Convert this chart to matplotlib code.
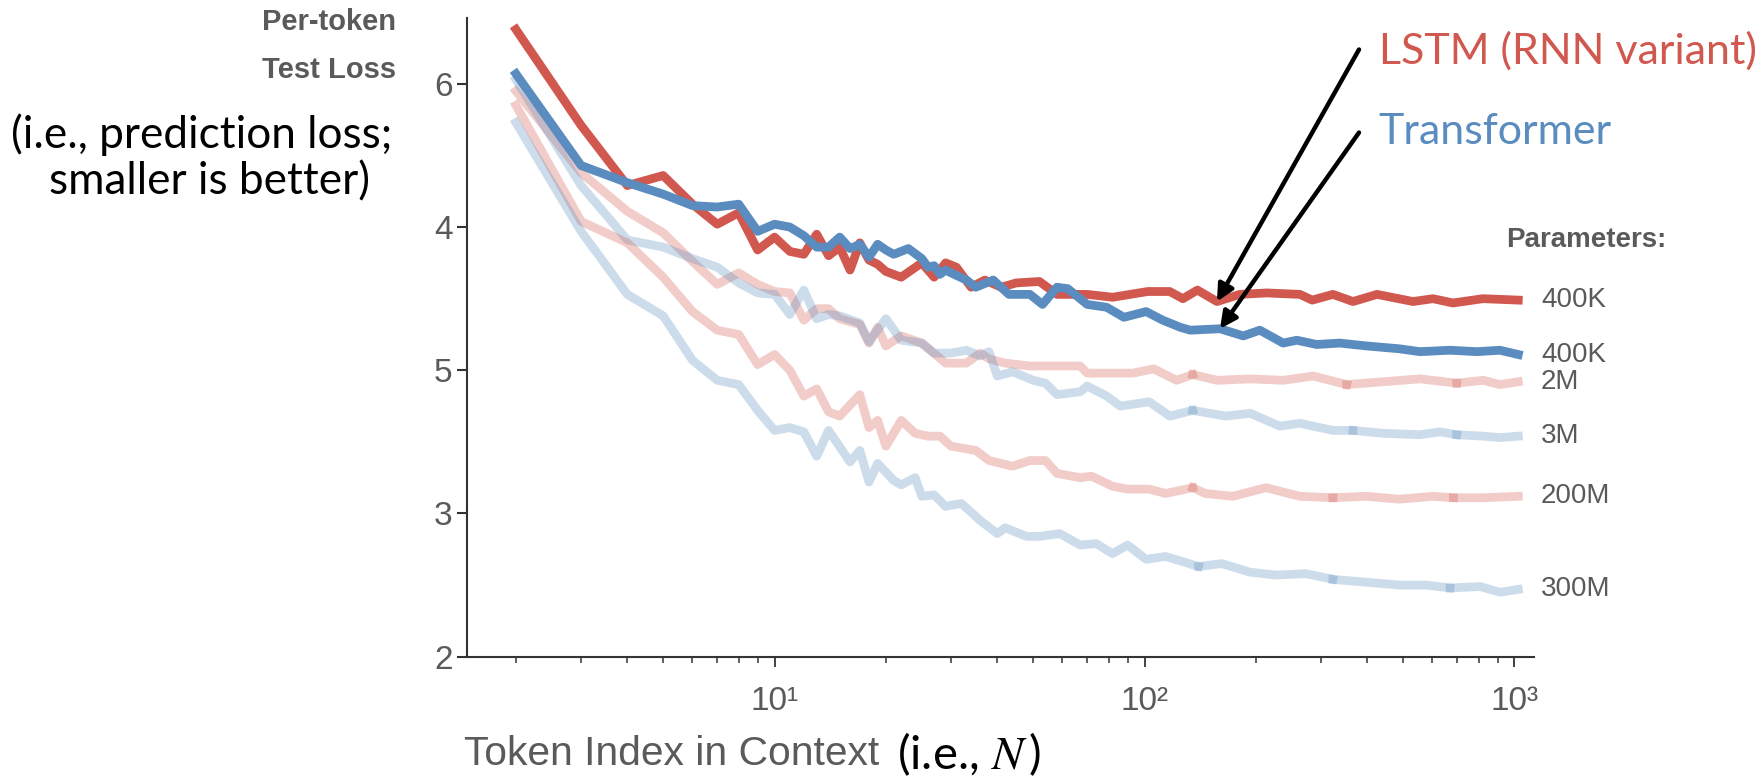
import numpy as np
import matplotlib
matplotlib.use("Agg")
import matplotlib.pyplot as plt
from matplotlib.transforms import blended_transform_factory

# Values. Y is in axis units (tick slots 2..6),
# the tick labels are printed in the order the source figure shows them.
n_lstm = [2, 3, 4, 5, 6, 7, 8, 9, 10, 11, 12, 13, 14, 15, 16, 17, 18, 19, 20,
          22, 25, 27, 29, 31, 34, 37, 41, 45, 52, 58, 70, 82, 102, 117, 127,
          139, 157, 181, 214, 263, 284, 323, 366, 425, 532, 602, 682, 822, 1024]
loss_lstm = [6.38, 5.71, 5.29, 5.36, 5.16, 5.02, 5.10, 4.84, 4.93, 4.83, 4.81,
             4.95, 4.80, 4.86, 4.70, 4.89, 4.77, 4.74, 4.69,
             4.65, 4.75, 4.65, 4.75, 4.72, 4.58, 4.63, 4.58, 4.61, 4.62, 4.53,
             4.53, 4.51, 4.55, 4.55, 4.50, 4.56, 4.48, 4.53, 4.54, 4.53, 4.49,
             4.53, 4.48, 4.53, 4.48, 4.50, 4.47, 4.50, 4.49]

n_tf = [2, 3, 4, 5, 6, 7, 8, 9, 10, 11, 12, 13, 14, 15, 16, 17, 18, 19, 20, 21,
        23, 25, 26, 27, 28, 29, 30, 33, 35, 39, 43, 49, 53, 58, 62, 70, 79, 88,
        101, 112, 125, 133, 160, 185, 205, 237, 258, 292, 337, 398, 489, 555,
        670, 792, 913, 1024]
loss_tf = [6.07, 5.43, 5.31, 5.23, 5.15, 5.14, 5.16, 4.97, 5.02, 5.00, 4.94,
           4.86, 4.86, 4.93, 4.85, 4.88, 4.79, 4.88, 4.84, 4.81,
           4.85, 4.78, 4.72, 4.73, 4.67, 4.70, 4.68, 4.63, 4.58, 4.63, 4.53,
           4.53, 4.46, 4.58, 4.57, 4.46, 4.44, 4.37, 4.41, 4.35, 4.30, 4.28,
           4.29, 4.24, 4.28, 4.19, 4.21, 4.18, 4.19, 4.17, 4.15, 4.13, 4.14,
           4.13, 4.14, 4.11]

n_lstm_2m = [2, 3, 4, 5, 6, 7, 8, 9, 10, 11, 12, 13, 14, 15, 17, 18, 19, 20, 22,
             25, 29, 33, 36, 38, 42, 49, 54, 67, 70, 82, 93, 106, 122, 135, 157,
             193, 237, 286, 352, 442, 555, 698, 824, 914, 1024]
loss_lstm_2m = [5.95, 5.38, 5.11, 4.96, 4.76, 4.60, 4.68, 4.60, 4.55, 4.54,
                4.35, 4.43, 4.43, 4.36, 4.32, 4.19, 4.30, 4.17, 4.24, 4.19,
                4.05, 4.05, 4.12, 4.08, 4.05, 4.03, 4.03, 4.03, 3.98, 3.98,
                3.98, 4.01, 3.93, 3.97, 3.93, 3.94, 3.93, 3.96, 3.90, 3.92,
                3.94, 3.91, 3.93, 3.90, 3.92]

n_tf_3m = [2, 3, 4, 5, 6, 7, 8, 9, 10, 11, 12, 13, 14, 15, 17, 18, 20, 22, 25,
           27, 30, 33, 36, 38, 40, 44, 50, 54, 58, 67, 70, 79, 86, 103, 117,
           135, 166, 193, 232, 263, 323, 366, 442, 555, 629, 698, 824, 914, 1024]
loss_tf_3m = [6.03, 5.29, 4.91, 4.86, 4.78, 4.72, 4.61, 4.54, 4.53, 4.39, 4.56,
              4.36, 4.39, 4.38, 4.33, 4.20, 4.36, 4.21, 4.19, 4.12, 4.12, 4.14,
              4.10, 4.13, 3.96, 3.99, 3.93, 3.91, 3.83, 3.85, 3.89, 3.82, 3.75,
              3.78, 3.68, 3.72, 3.68, 3.70, 3.61, 3.63, 3.58, 3.58, 3.56, 3.55,
              3.57, 3.55, 3.54, 3.53, 3.54]

n_lstm_200m = [2, 3, 4, 5, 6, 7, 8, 9, 10, 11, 12, 13, 14, 15, 17, 18, 19, 20,
               22, 24, 26, 28, 30, 35, 38, 44, 49, 54, 58, 67, 72, 82, 90, 103,
               114, 135, 146, 173, 213, 263, 323, 397, 489, 602, 684, 824, 1024]
loss_lstm_200m = [5.85, 5.04, 4.89, 4.65, 4.41, 4.28, 4.25, 4.04, 4.11, 4.00,
                  3.82, 3.87, 3.71, 3.68, 3.83, 3.60, 3.65, 3.47, 3.65, 3.56,
                  3.54, 3.54, 3.47, 3.44, 3.37, 3.33, 3.37, 3.37, 3.28, 3.25,
                  3.26, 3.19, 3.17, 3.17, 3.14, 3.18, 3.14, 3.12, 3.18, 3.12,
                  3.11, 3.12, 3.10, 3.12, 3.11, 3.11, 3.12]

n_tf_300m = [2, 3, 4, 5, 6, 7, 8, 9, 10, 11, 12, 13, 14, 16, 17, 18, 19, 21, 22,
             24, 25, 27, 29, 32, 36, 40, 42, 48, 52, 59, 67, 74, 82, 90, 101,
             114, 140, 162, 193, 227, 273, 323, 398, 489, 577, 670, 807, 914, 1024]
loss_tf_300m = [5.73, 4.97, 4.53, 4.38, 4.07, 3.93, 3.90, 3.72, 3.58, 3.60,
                3.57, 3.40, 3.58, 3.36, 3.44, 3.22, 3.35, 3.23, 3.20, 3.25,
                3.12, 3.13, 3.05, 3.07, 2.95, 2.86, 2.90, 2.84, 2.84, 2.86,
                2.78, 2.79, 2.72, 2.78, 2.68, 2.70, 2.63, 2.65, 2.59, 2.57,
                2.58, 2.54, 2.52, 2.50, 2.50, 2.48, 2.49, 2.45, 2.47]

size_labels = ["400K", "400K", "2M", "3M", "200M", "300M"]
y_ticks = [2, 3, 4, 5, 6]
y_tick_labels = ["2", "3", "5", "4", "6"]
x_ticks = [10, 100, 1000]
x_tick_labels = ["10\u00b9", "10\u00b2", "10\u00b3"]

RED = "#d1584f"
BLUE = "#5a8cbf"
GRAY = "#5a5a5a"
SANS = "Liberation Sans"
HUMANIST = "Lato"
LW = 6.3

fig = plt.figure(figsize=(17.65, 7.79), dpi=100)
ax = fig.add_axes([0.2646, 0.157, 0.6045, 0.8199])

# faint lines, drawn in pieces so the joins show the darker overlap spots
faint = [(n_lstm_2m, loss_lstm_2m, RED), (n_tf_3m, loss_tf_3m, BLUE),
         (n_lstm_200m, loss_lstm_200m, RED), (n_tf_300m, loss_tf_300m, BLUE)]
for n, v, c in faint:
    n = np.array(n)
    v = np.array(v)
    cut = [0] + [int(np.argmin(np.abs(n - k))) for k in (140, 350, 700)] + [len(n) - 1]
    for a, b in zip(cut[:-1], cut[1:]):
        ax.plot(n[a:b + 1], v[a:b + 1], color=c, lw=LW, alpha=0.3,
                solid_capstyle="projecting")

ax.plot(n_lstm, loss_lstm, color=RED, lw=LW)
ax.plot(n_tf, loss_tf, color=BLUE, lw=LW)

ax.set_xscale("log")
ax.set_xlim(1.475, 1129)
ax.set_ylim(2, 6.46)
ax.set_yticks(y_ticks)
ax.set_yticklabels(y_tick_labels)
ax.set_xticks(x_ticks)
ax.set_xticklabels(x_tick_labels)
ax.xaxis.set_minor_formatter(plt.NullFormatter())

for s in ["top", "right"]:
    ax.spines[s].set_visible(False)
for s in ["left", "bottom"]:
    ax.spines[s].set_color("#333333")
    ax.spines[s].set_linewidth(1.5)
ax.tick_params(axis="y", length=7, width=1.5, color="#333333",
               labelsize=24, labelcolor=GRAY)
ax.tick_params(axis="x", which="major", length=7, width=1.3, color="#333333",
               labelsize=24, labelcolor=GRAY, pad=14)
ax.tick_params(axis="x", which="minor", length=4, width=1.1, color="#333333")
for lab in ax.get_xticklabels() + ax.get_yticklabels():
    lab.set_family(SANS)

# size labels at the end of each curve
ends = [loss_lstm[-1], loss_tf[-1], loss_lstm_2m[-1], loss_tf_3m[-1],
        loss_lstm_200m[-1], loss_tf_300m[-1]]
tr = blended_transform_factory(ax.transAxes, ax.transData)
for lab, yv in zip(size_labels, ends):
    ax.text(1.0066, yv, lab, transform=tr, ha="left", va="center",
            fontsize=20, color=GRAY, family=SANS, clip_on=False)
ax.text(0.974, 0.6524, "Parameters:", transform=ax.transAxes, ha="left",
        va="center", fontsize=20, fontweight="bold", color=GRAY, family=SANS)

# arrows and model names
i_l = n_lstm.index(157)
i_t = n_tf.index(160)
arrow = dict(arrowstyle="-|>", color="black", lw=3.2, mutation_scale=25,
             shrinkA=0, shrinkB=0)
ax.annotate("", xy=(n_lstm[i_l], loss_lstm[i_l]), xytext=(380, 6.24),
            arrowprops=arrow)
ax.annotate("", xy=(n_tf[i_t], loss_tf[i_t]), xytext=(380, 5.66),
            arrowprops=arrow)
ax.text(430, 6.23, "LSTM (RNN variant)", ha="left", va="center",
        fontsize=31, color=RED, family=HUMANIST)
ax.text(430, 5.663, "Transformer", ha="left", va="center",
        fontsize=31, color=BLUE, family=HUMANIST)

W, H = 1765.0, 779.0
def px(x, y):
    return x / W, 1 - y / H

fig.text(*px(396, 22.5), "Per-token", ha="right", va="center", fontsize=21,
         fontweight="bold", color=GRAY, family=SANS)
fig.text(*px(396, 70), "Test Loss", ha="right", va="center", fontsize=21,
         fontweight="bold", color=GRAY, family=SANS)
fig.text(*px(202, 135), "(i.e., prediction loss;", ha="center", va="center",
         fontsize=31.8, color="black", family=HUMANIST)
fig.text(*px(210, 182), "smaller is better)", ha="center", va="center",
         fontsize=31.8, color="black", family=HUMANIST)

fig.text(*px(464, 754), "Token Index in Context", ha="left", va="center",
         fontsize=29.3, color=GRAY, family=SANS)
fig.text(*px(897, 754), "(i.e., $N\\,$)", ha="left", va="center",
         fontsize=34, color="black", family=HUMANIST, math_fontfamily="stix")

fig.savefig("out.png", dpi=100)
